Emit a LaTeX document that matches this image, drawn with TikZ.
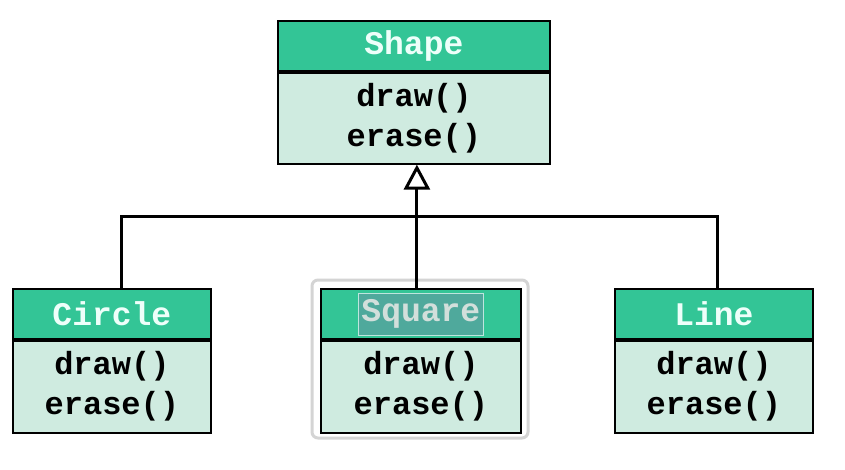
\documentclass[tikz,border=0pt]{standalone}
\usepackage{fontspec}
\setmonofont{Liberation Mono}
\usetikzlibrary{arrows.meta, positioning}

\definecolor{hdrgreen}{HTML}{33C596}
\definecolor{bodygreen}{HTML}{CFEBE0}
\definecolor{hdrtext}{HTML}{EEFFFA}
\definecolor{selteal}{HTML}{4FA99C}
\definecolor{selgray}{HTML}{D4D4D4}

\tikzset{
  hdr/.style={draw=black, line width=1.8pt, fill=hdrgreen, text=hdrtext,
    minimum height=50pt, inner sep=0pt,
    font=\ttfamily\bfseries\fontsize{33}{38}\selectfont},
  body/.style={draw=black, line width=1.8pt, fill=bodygreen, text=black,
    minimum height=91pt, inner sep=0pt, align=center,
    font=\ttfamily\bfseries\fontsize{32}{40}\selectfont},
  link/.style={line width=3pt, black}
}

\begin{document}
\begin{tikzpicture}[x=1pt, y=-1pt, >=stealth]
  \useasboundingbox[fill=white] (0,0) rectangle (845,469);

  % Lớp cha Shape
  \node[hdr, minimum width=272pt, anchor=north west] (shapeH) at (277,20) {Shape};
  \node[body, minimum width=272pt, anchor=north] (shapeB) at (shapeH.south) {draw()\\erase()};

  % Khung chọn quanh Square
  \draw[selgray, line width=3pt, rounded corners=6pt] (312,280) rectangle (528,438);

  % Các lớp con
  \node[hdr, minimum width=198pt, anchor=north west] (circleH) at (12,288) {Circle};
  \node[body, minimum width=198pt, minimum height=92pt, anchor=north] (circleB) at (circleH.south) {draw()\\erase()};

  \node[hdr, minimum width=200pt, anchor=north west] (squareH) at (320,288) {};
  \node[fill=selteal, draw=hdrtext!70!selteal, line width=0.6pt, text=hdrtext!75!gray,
    minimum width=125pt, minimum height=42pt, inner sep=0pt,
    font=\ttfamily\bfseries\fontsize{33}{38}\selectfont] (squareT) at (squareH) {Square};
  \node[body, minimum width=200pt, minimum height=92pt, anchor=north] (squareB) at (squareH.south) {draw()\\erase()};

  \node[hdr, minimum width=198pt, anchor=north west] (lineH) at (614,288) {Line};
  \node[body, minimum width=198pt, minimum height=92pt, anchor=north] (lineB) at (lineH.south) {draw()\\erase()};

  % Các đường kế thừa
  \coordinate (bus) at (416,216);
  \draw[link] ([xshift=10pt]circleH.north) |- (bus) -| ([xshift=4pt]lineH.north);
  \draw[link, -{Triangle[open, length=25pt, width=26pt, line width=3pt]}]
    ([xshift=-4pt]squareH.north) -- ([xshift=3pt]shapeB.south);
\end{tikzpicture}
\end{document}
